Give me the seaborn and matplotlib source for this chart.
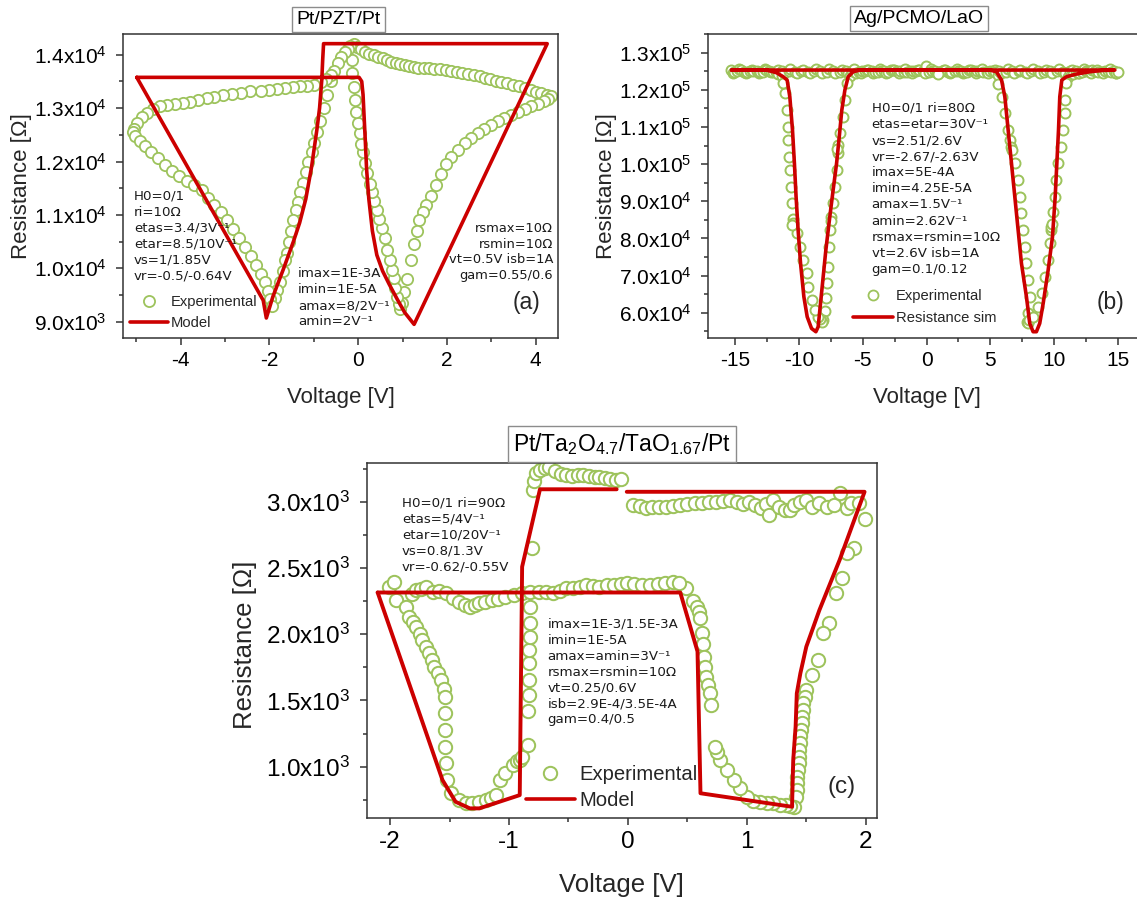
import numpy as np
import pandas as pd
import matplotlib
matplotlib.use("Agg")
import matplotlib.pyplot as plt
from matplotlib.lines import Line2D
from matplotlib.ticker import MultipleLocator, FuncFormatter
import seaborn as sns

# ---------------------------------------------------------------- data
# (a) Pt/PZT/Pt : experimental R(V) loop, drawn branch by branch
a_up_right_v = [-0.10, -0.02, 0.06, 0.15, 0.25, 0.35, 0.45, 0.55, 0.65, 0.75,
                0.85, 0.95, 1.05, 1.15, 1.25, 1.35, 1.48, 1.60, 1.72, 1.85,
                1.98, 2.10, 2.22, 2.35, 2.48, 2.61, 2.74, 2.86, 2.98, 3.10,
                3.22, 3.36, 3.50, 3.63, 3.76, 3.89, 4.00, 4.12, 4.25, 4.34]
a_up_right_r = [14200, 14150, 14100, 14060, 14020, 13990, 13960, 13930, 13900, 13870,
                13845, 13820, 13800, 13785, 13770, 13760, 13752, 13745, 13735, 13725,
                13710, 13695, 13680, 13665, 13645, 13626, 13600, 13570, 13545, 13515,
                13490, 13471, 13440, 13405, 13375, 13345, 13310, 13280, 13250, 13230]
a_low_right_v = [4.28, 4.18, 4.05, 3.90, 3.76, 3.60, 3.45, 3.29, 3.14, 2.99,
                 2.84, 2.69, 2.55, 2.40, 2.25, 2.10, 1.98, 1.86, 1.75, 1.63,
                 1.52, 1.45, 1.38, 1.32, 1.25, 1.18, 1.10, 1.04, 0.99, 0.95]
a_low_right_r = [13170, 13130, 13080, 13040, 12990, 12930, 12880, 12820, 12750, 12680,
                 12610, 12534, 12440, 12340, 12220, 12080, 11950, 11760, 11560, 11360,
                 11180, 11050, 10900, 10700, 10450, 10150, 9800, 9550, 9350, 9230]
a_dip_right_v = [0.91, 0.88, 0.84, 0.80, 0.76, 0.71, 0.66, 0.60, 0.54, 0.48,
                 0.42, 0.36, 0.31, 0.26, 0.21, 0.16, 0.11, 0.07, 0.03, -0.01,
                 -0.04, -0.07, -0.10, -0.13, -0.14]
a_dip_right_r = [9330, 9470, 9640, 9810, 9970, 10150, 10350, 10560, 10760, 10920,
                 11100, 11260, 11430, 11580, 11780, 11980, 12180, 12330, 12530, 12720,
                 12920, 13150, 13400, 13650, 13900]
a_dip_left_v = [-0.18, -0.24, -0.30, -0.38, -0.46, -0.55, -0.62, -0.70, -0.78, -0.85,
                -0.92, -0.99, -1.05, -1.12, -1.18, -1.24, -1.30, -1.35, -1.40, -1.46,
                -1.51, -1.56, -1.61, -1.65, -1.70, -1.76, -1.82, -1.88]
a_dip_left_r = [14160, 14110, 14050, 13950, 13850, 13700, 13500, 13250, 13000, 12750,
                12550, 12350, 12180, 12000, 11800, 11600, 11420, 11250, 11100, 10910,
                10700, 10500, 10287, 10150, 9950, 9750, 9600, 9450]
a_up_left_v = [-0.62, -0.72, -0.84, -0.99, -1.15, -1.30, -1.46, -1.64, -1.82, -2.00,
               -2.20, -2.44, -2.65, -2.85, -3.05, -3.25, -3.41, -3.60, -3.78, -3.95,
               -4.12, -4.30, -4.46, -4.62, -4.76, -4.88, -4.98, -5.05]
a_up_left_r = [13620, 13540, 13480, 13439, 13420, 13405, 13390, 13370, 13350, 13335,
               13325, 13313, 13290, 13265, 13240, 13215, 13190, 13160, 13120, 13090,
               13070, 13050, 13032, 12980, 12900, 12830, 12720, 12610]
a_low_left_v = [-5.07, -5.02, -4.92, -4.80, -4.66, -4.50, -4.35, -4.20, -4.03, -3.86,
                -3.70, -3.53, -3.38, -3.24, -3.10, -2.96, -2.82, -2.68, -2.55, -2.42,
                -2.30, -2.19, -2.10, -2.03, -1.98, -1.94]
a_low_left_r = [12560, 12480, 12390, 12290, 12180, 12070, 11930, 11820, 11720, 11640,
                11560, 11460, 11320, 11180, 11060, 10900, 10730, 10570, 10400, 10230,
                10060, 9900, 9740, 9580, 9430, 9300]
# (a) model
a_mod_v = [-4.99, 0.02, 0.08, 0.11, 0.13, 0.16, 0.19, 0.24, 0.32, 0.42,
           0.55, 0.70, 0.88, 1.05, 1.26, 4.26, -0.78, -0.80, -0.82, -0.87,
           -0.93, -1.05, -1.18, -1.32, -1.46, -1.69, -1.92, -2.07, -2.14, -4.99]
a_mod_r = [13576, 13576, 13500, 13250, 12900, 12400, 11850, 11300, 10700, 10250,
           9950, 9700, 9420, 9170, 8950, 14207, 14207, 13900, 13530, 13000,
           12600, 11900, 11300, 10850, 10500, 9974, 9474, 9069, 9400, 13576]

# (b) Ag/PCMO/LaO : high-resistance plateau (several sweeps) and the two dips
b_flat1_v = [-15.3, -14.8, -14.3, -13.8, -13.3, -12.8, -12.3, -11.8, -11.3, -10.8,
             -10.3, -9.8, -9.3, -8.8, -8.3, -7.8, -7.3, -6.8, -6.3, -5.8,
             -5.3, -4.8, -4.3, -3.8, -3.3, -2.8, -2.3, -1.8, -1.3, -0.8,
             -0.3, 0.2, 0.7, 1.2, 1.7, 2.2, 2.7, 3.2, 3.7, 4.2,
             4.7, 5.2, 5.7, 6.2, 6.7, 7.2, 7.7, 8.2, 8.7, 9.2,
             9.7, 10.2, 10.7, 11.2, 11.7, 12.2, 12.7, 13.2, 13.7, 14.2,
             14.7, 15.0]
b_flat1_r = [125300, 125100, 124900, 125200, 125000, 124800, 125100, 124900, 125200, 125000,
             124800, 125100, 124900, 125000, 125200, 124900, 125100, 124800, 125000, 125200,
             124900, 125100, 125000, 124800, 125100, 125300, 125000, 124900, 125200, 125100,
             125000, 124900, 125200, 125000, 124800, 125100, 125200, 124900, 125000, 125100,
             124800, 125000, 125200, 124900, 125100, 125000, 124800, 125100, 125200, 124900,
             125000, 125100, 124800, 125000, 125200, 124900, 125100, 125000, 124800, 125100,
             125000, 124700]
b_flat2_v = [-15.05, -14.55, -14.05, -13.55, -13.05, -12.55, -12.05, -11.6, -11.3,
             -6.0, -5.55, -5.05, -4.55, -4.05, -3.55, -3.05, -2.55, -2.05, -1.55,
             -1.05, -0.55, -0.05, 0.45, 0.95, 1.45, 1.95, 2.45, 2.95, 3.45,
             3.95, 4.45, 4.95, 5.35, 5.6,
             11.1, 11.5, 11.95, 12.45, 12.95, 13.45, 13.95, 14.45, 14.85]
b_flat2_r = [124700, 125300, 124900, 125100, 124700, 125300, 124900, 124400, 123700,
             123600, 124500, 125000, 125300, 124800, 125200, 124900, 125300, 125100, 124800,
             125200, 125400, 126500, 125100, 124900, 125300, 124800, 125200, 124900, 125300,
             125000, 124800, 125200, 124700, 124000,
             123400, 124200, 124600, 125000, 125300, 124800, 125200, 124800, 124600]
b_flat3_v = [-15.15, -14.65, -14.15, -13.65, -13.15, -12.65, -12.15, -11.65, -11.15, -10.65,
             -10.15, -9.65, -9.15, -8.65, -8.15, -7.65, -7.15, -6.65, -6.15, -5.65,
             -5.15, -4.65, -4.15, -3.65, -3.15, -2.65, -2.15, -1.65, -1.15, -0.65,
             -0.15, 0.35, 0.85, 1.35, 1.85, 2.35, 2.85, 3.35, 3.85, 4.35,
             4.85, 5.35, 5.85, 6.35, 6.85, 7.35, 7.85, 8.35, 8.85, 9.35,
             9.85, 10.35, 10.85, 11.35, 11.85, 12.35, 12.85, 13.35, 13.85, 14.35,
             14.85]
b_flat3_r = [124500, 125500, 124600, 125400, 124500, 125500, 124700, 125400, 124500, 125500,
             124600, 125400, 124500, 125500, 124600, 125500, 124500, 125400, 124600, 125500,
             124500, 125400, 124600, 125500, 124500, 125400, 124600, 125500, 124500, 125400,
             124600, 125500, 124500, 125400, 124600, 125500, 124500, 125400, 124600, 125500,
             124500, 125400, 124600, 125500, 124500, 125400, 124600, 125500, 124500, 125400,
             124600, 125500, 124500, 125400, 124600, 125500, 124500, 125400, 124600, 125500,
             124500]
b_ldip_v = [-6.21, -6.39, -6.57, -6.78, -6.91, -6.96, -7.00, -7.04, -7.18, -7.31,
            -7.44, -7.47, -7.52, -7.62, -7.70, -7.78, -7.83, -7.96, -8.09, -8.20,
            -8.30, -8.48, -8.74, -9.00, -9.26, -9.39, -9.65, -9.91, -10.17, -10.43,
            -10.45, -10.50, -10.56, -10.64, -10.70, -10.75, -10.83, -10.83, -10.90, -11.09,
            -11.20]
b_ldip_r = [121740, 117250, 112770, 108280, 105130, 102890, 104000, 98400, 93920, 89430,
            85840, 84800, 82240, 77760, 72370, 67880, 63840, 60500, 58000, 57600,
            58200, 58900, 60700, 63390, 66980, 70580, 74160, 77750, 81350, 85200,
            84200, 83500, 89400, 93900, 98400, 102000, 106480, 110070, 114560, 119050,
            121800]
b_rdip_v = [5.60, 5.87, 6.13, 6.39, 6.55, 6.65, 6.70, 6.91, 7.17, 7.30,
            7.43, 7.56, 7.69, 7.82, 7.95, 8.08, 7.95, 7.90, 7.98, 8.05,
            8.34, 8.73, 9.00, 9.26, 9.52, 9.65, 9.75, 9.78, 9.80, 9.91,
            10.04, 10.17, 10.30, 10.56, 10.69, 10.82, 10.82, 10.95]
b_rdip_r = [121500, 118150, 113660, 109170, 106500, 104690, 103800, 100200, 95710, 91220,
            86730, 82240, 77760, 73270, 68780, 64290, 59800, 57560, 57300, 57900,
            58900, 61600, 65190, 69680, 74160, 78650, 82300, 83140, 84000, 87180,
            91220, 95710, 100200, 104690, 109170, 113660, 117250, 121740]
b_last_v = [0.9]
b_last_r = [124400]
# (b) model
b_mod_v = [0.0, 4.95, 5.48, 5.87, 6.13, 6.39, 6.65, 6.91, 7.17, 7.43,
           7.82, 8.08, 8.34, 8.60, 8.86, 9.13, 9.52, 9.86, 10.07, 10.20,
           10.33, 10.43, 10.59, 10.95, 11.73, 12.78, 13.82, 14.74, -15.26, -12.52,
           -11.74, -11.22, -10.91, -10.70, -10.49, -10.34, -10.21, -10.05, -9.86, -9.60,
           -9.34, -9.00, -8.66, -8.48, -8.35, -8.14, -7.88, -7.57, -7.31, -7.04,
           -6.83, -6.63, -6.39, -6.13, -5.74, -5.22, 0.0]
b_mod_r = [125330, 125330, 124880, 122640, 118150, 109170, 100200, 91220, 82240, 73270,
           64290, 57110, 54870, 54870, 57110, 62500, 71480, 80450, 91220, 100200,
           109170, 118150, 122640, 123540, 124250, 124880, 125240, 125330, 125330, 125330,
           124610, 123540, 122640, 118150, 109170, 100200, 91220, 82240, 73270, 64290,
           58900, 55760, 54870, 56210, 60700, 67880, 76860, 85840, 93020, 100200,
           107380, 114560, 119950, 123540, 124880, 125330, 125330]

# (c) Pt/Ta2O4.7/TaO1.67/Pt
c_top_v = [-0.81, -0.80, -0.79, -0.77, -0.74, -0.70, -0.66, -0.61, -0.56, -0.52,
           -0.47, -0.42, -0.38, -0.33, -0.28, -0.24, -0.19, -0.15, -0.10, -0.06]
c_top_r = [2648, 3088, 3160, 3214, 3240, 3258, 3260, 3235, 3210, 3201,
           3195, 3200, 3201, 3195, 3190, 3189, 3180, 3172, 3166, 3170]
c_hrs_v = [0.045, 0.10, 0.15, 0.20, 0.26, 0.32, 0.38, 0.44, 0.50, 0.56,
           0.62, 0.68, 0.74, 0.80, 0.86, 0.92, 0.97, 1.02, 1.07, 1.12,
           1.16, 1.19, 1.22, 1.27, 1.32, 1.36, 1.40, 1.45, 1.50, 1.55,
           1.61, 1.67, 1.73, 1.78, 1.84, 1.88, 1.94, 1.99]
c_hrs_r = [2975, 2965, 2955, 2960, 2962, 2962, 2968, 2975, 2985, 2988,
           2990, 2995, 3000, 3005, 3013, 3000, 2985, 2995, 2975, 2950,
           2985, 2900, 3013, 2960, 2940, 2937, 2975, 2995, 3013, 2960,
           2988, 2960, 2975, 3063, 2950, 2988, 2988, 2867]
c_rdrop_v = [1.90, 1.84, 1.80, 1.75, 1.69, 1.64, 1.60, 1.55, 1.50, 1.485,
             1.475, 1.47, 1.465, 1.46, 1.455, 1.45, 1.448, 1.44, 1.44, 1.435,
             1.43, 1.425, 1.42, 1.42, 1.41, 1.40]
c_rdrop_r = [2648, 2610, 2422, 2313, 2082, 2007, 1805, 1692, 1579, 1530,
             1478, 1430, 1377, 1330, 1277, 1230, 1176, 1130, 1075, 1025,
             975, 925, 875, 825, 774, 698]
c_rbot_v = [1.36, 1.33, 1.28, 1.22, 1.17, 1.11, 1.05, 1.00, 0.94, 0.89, 0.83, 0.77, 0.75, 0.73]
c_rbot_r = [705, 715, 715, 724, 724, 736, 745, 774, 837, 900, 975, 1050, 1110, 1151]
c_mdrop_v = [0.49, 0.55, 0.58, 0.60, 0.61, 0.62, 0.63, 0.64, 0.65, 0.66, 0.67, 0.69, 0.70]
c_mdrop_r = [2346, 2250, 2208, 2170, 2119, 2010, 1930, 1830, 1754, 1680, 1620, 1560, 1466]
c_lrs_v = [-2.01, -1.97, -1.95, -1.87, -1.82, -1.78, -1.74, -1.70, -1.64, -1.59,
           -1.53, -1.47, -1.42, -1.37, -1.33, -1.29, -1.25, -1.20, -1.14, -1.09,
           -1.03, -0.96, -0.89, -0.82, -0.75, -0.69, -0.63, -0.57, -0.52, -0.46,
           -0.40, -0.35, -0.29, -0.24, -0.18, -0.12, -0.06, -0.01, 0.05, 0.12,
           0.185, 0.25, 0.31, 0.38, 0.43]
c_lrs_r = [2358, 2396, 2258, 2208, 2300, 2334, 2340, 2358, 2321, 2330,
           2309, 2270, 2246, 2220, 2208, 2220, 2233, 2245, 2258, 2265,
           2283, 2295, 2309, 2320, 2321, 2315, 2309, 2330, 2346, 2350,
           2360, 2371, 2365, 2358, 2370, 2375, 2380, 2384, 2378, 2372,
           2371, 2380, 2390, 2396, 2390]
c_ldrop_v = [-1.84, -1.81, -1.78, -1.75, -1.73, -1.70, -1.67, -1.65, -1.63, -1.60,
             -1.57, -1.55, -1.54, -1.54, -1.54, -1.54, -1.53, -1.52, -1.49, -1.42,
             -1.36, -1.31, -1.25, -1.19, -1.15, -1.11]
c_ldrop_r = [2132, 2095, 2057, 2005, 1956, 1905, 1856, 1805, 1755, 1705,
             1654, 1590, 1528, 1403, 1277, 1151, 1025, 900, 799, 749,
             730, 724, 735, 749, 765, 786]
c_lrise_v = [-1.08, -1.03, -0.97, -0.93, -0.91, -0.89]
c_lrise_r = [900, 950, 1013, 1040, 1050, 1075]
c_vert_v = [-0.84, -0.84, -0.83, -0.83, -0.83, -0.83, -0.82, -0.82, -0.82]
c_vert_r = [1165, 1420, 1540, 1654, 1780, 1881, 1981, 2082, 2208]
# (c) model, two separate strokes
c_mod_v = [-2.105, 0.44, 0.585, 0.61, 1.38, 1.39, 1.41, 1.42, 1.45, 1.50,
           1.61, 1.78, 1.99, -0.01,
           -0.095, -0.74, -0.89, -0.91, -1.25, -1.33, -1.45, -1.56, -2.105]
c_mod_r = [2315, 2315, 1870, 800, 698, 1050, 1302, 1554, 1705, 1906,
           2182, 2560, 3075, 3075,
           3094, 3094, 2509, 786, 686, 686, 736, 900, 2315]
c_mod_seg = [0, 0, 0, 0, 0, 0, 0, 0, 0, 0, 0, 0, 0, 0,
             1, 1, 1, 1, 1, 1, 1, 1, 1]

# parameter annotations
a_txt_left = ["H0=0/1", "ri=10Ω", "etas=3.4/3V⁻¹", "etar=8.5/10V⁻¹",
              "vs=1/1.85V", "vr=-0.5/-0.64V"]
a_txt_mid = ["imax=1E-3A", "imin=1E-5A", "amax=8/2V⁻¹", "amin=2V⁻¹"]
a_txt_right = ["rsmax=10Ω", "rsmin=10Ω", "vt=0.5V isb=1A", "gam=0.55/0.6"]
b_txt = ["H0=0/1 ri=80Ω", "etas=etar=30V⁻¹", "vs=2.51/2.6V", "vr=-2.67/-2.63V",
         "imax=5E-4A", "imin=4.25E-5A", "amax=1.5V⁻¹", "amin=2.62V⁻¹",
         "rsmax=rsmin=10Ω", "vt=2.6V isb=1A", "gam=0.1/0.12"]
c_txt_left = ["H0=0/1 ri=90Ω", "etas=5/4V⁻¹", "etar=10/20V⁻¹",
              "vs=0.8/1.3V", "vr=-0.62/-0.55V"]
c_txt_mid = ["imax=1E-3/1.5E-3A", "imin=1E-5A", "amax=amin=3V⁻¹",
             "rsmax=rsmin=10Ω", "vt=0.25/0.6V", "isb=2.9E-4/3.5E-4A", "gam=0.4/0.5"]

titles = ["Pt/PZT/Pt", "Ag/PCMO/LaO", "Pt/Ta$_2$O$_{4.7}$/TaO$_{1.67}$/Pt"]

# ---------------------------------------------------------------- style
sns.set_style("ticks")
GREEN = "#9dc35c"
RED = "#cc0000"
SPINE = "#333333"
plt.rcParams.update({
    "font.family": ["Liberation Sans", "DejaVu Sans"],
    "mathtext.default": "regular",
    "axes.unicode_minus": False,
    "axes.edgecolor": SPINE,
    "axes.linewidth": 1.1,
    "xtick.color": SPINE,
    "ytick.color": SPINE,
    "xtick.labelcolor": "black",
    "ytick.labelcolor": "black",
})

W, H = 1137, 905
fig = plt.figure(figsize=(W / 100, H / 100), dpi=100)


def axes_px(l, t, r, b):
    return fig.add_axes([l / W, 1 - b / H, (r - l) / W, (b - t) / H])


def sci_label(v, pos):
    if v <= 0:
        return ""
    e = int(np.floor(np.log10(v) + 1e-9))
    return f"{v / 10 ** e:.1f}x10$^{{{e}}}$"


def style_axes(ax, xmaj, xmin, ymaj, ymin, tsize):
    ax.xaxis.set_major_locator(MultipleLocator(xmaj))
    ax.xaxis.set_minor_locator(MultipleLocator(xmin))
    ax.yaxis.set_major_locator(MultipleLocator(ymaj))
    ax.yaxis.set_minor_locator(MultipleLocator(ymin))
    ax.yaxis.set_major_formatter(FuncFormatter(sci_label))
    ax.tick_params(which="major", direction="out", length=5, width=1.1, labelsize=tsize)
    ax.tick_params(axis="y", which="major", pad=7)
    ax.tick_params(axis="x", which="major", pad=4)
    ax.tick_params(which="minor", direction="out", length=3, width=1.1)


def labels(ax, fs, xl_y, yl_x, yl_y=0.5):
    ax.set_xlabel("Voltage [V]", fontsize=fs)
    ax.set_ylabel("Resistance [Ω]", fontsize=fs)
    ax.xaxis.set_label_coords(0.5, xl_y)
    ax.yaxis.set_label_coords(yl_x, yl_y)
    ax.xaxis.label.set_va("center")
    ax.yaxis.label.set_va("center")


def scatter(ax, v, r, s, lw):
    sns.scatterplot(x=v, y=r, ax=ax, marker="o", s=s, color=GREEN,
                    facecolor="white", edgecolor=GREEN, linewidth=lw,
                    legend=False, zorder=2)


def legend(ax, names, ms, mew, fs, anchor, hl, htp, lsp):
    handles = [Line2D([], [], ls="none", marker="o", ms=ms, mfc="white",
                      mec=GREEN, mew=mew),
               Line2D([], [], color=RED, lw=2.6)]
    ax.legend(handles, names, loc="upper left", bbox_to_anchor=anchor,
              frameon=False, fontsize=fs, handlelength=hl, handletextpad=htp,
              labelspacing=lsp, borderpad=0, borderaxespad=0, numpoints=1)


def text_lines(lines, x, y0, dy, ha="left", size=9.6):
    for i, s in enumerate(lines):
        fig.text(x / W, 1 - (y0 + i * dy) / H, s, ha=ha, va="center",
                 fontsize=size, family="DejaVu Sans", color="#1a1a1a")


def title_box(s, cx, cy, size):
    fig.text(cx / W, 1 - cy / H, s, ha="center", va="center", fontsize=size,
             color="black",
             bbox=dict(boxstyle="square,pad=0.22", fc="white", ec="#8c8c8c", lw=1.0))


# ---------------------------------------------------------------- panel (a)
ax_a = axes_px(123, 34, 558.3, 338.3)
a_v = (a_up_right_v + a_low_right_v + a_dip_right_v + a_dip_left_v
       + a_up_left_v + a_low_left_v)
a_r = (a_up_right_r + a_low_right_r + a_dip_right_r + a_dip_left_r
       + a_up_left_r + a_low_left_r)
scatter(ax_a, a_v, a_r, 66, 1.3)
sns.lineplot(x=a_mod_v, y=a_mod_r, sort=False, estimator=None, ax=ax_a,
             color=RED, lw=2.6, zorder=3)
ax_a.set_xlim(-5.30, 4.51)
ax_a.set_ylim(8689, 14388)
style_axes(ax_a, 2, 1, 1000, 500, 15)
labels(ax_a, 16, -0.193, -0.234)
legend(ax_a, ["Experimental", "Model"], 8.0, 1.3, 10.6, (0.016, 0.142), 2.6, 0.2, 0.5)
ax_a.text(0.928, 0.119, "(a)", transform=ax_a.transAxes, ha="center",
          va="center", fontsize=16.5)

# ---------------------------------------------------------------- panel (b)
ax_b = axes_px(708.3, 34, 1145, 338.3)
# plateau sweeps drawn in voltage order so the open circles stack into a band
b_flat = pd.DataFrame({"V": b_flat1_v + b_flat3_v + b_flat2_v,
                       "R": b_flat1_r + b_flat3_r + b_flat2_r}).sort_values("V")
b_v = list(b_flat["V"]) + b_ldip_v + b_rdip_v + b_last_v
b_r = list(b_flat["R"]) + b_ldip_r + b_rdip_r + b_last_r
scatter(ax_b, b_v, b_r, 52, 1.4)
sns.lineplot(x=b_mod_v, y=b_mod_r, sort=False, estimator=None, ax=ax_b,
             color=RED, lw=2.6, zorder=3)
ax_b.set_xlim(-17.08, 17.1)
ax_b.set_ylim(53100, 135040)
style_axes(ax_b, 5, 2.5, 10000, 5000, 15)
labels(ax_b, 16, -0.193, -0.234)
legend(ax_b, ["Experimental", "Resistance sim"], 7.2, 1.3, 10.6, (0.331, 0.163), 2.7, 0.2, 0.55)
ax_b.text(0.92, 0.119, "(b)", transform=ax_b.transAxes, ha="center",
          va="center", fontsize=16.5)

# ---------------------------------------------------------------- panel (c)
ax_c = axes_px(366.6, 463.3, 876.7, 818.3)
c_v = (c_top_v + c_hrs_v + c_rdrop_v + c_rbot_v + c_mdrop_v + c_lrs_v
       + c_ldrop_v + c_lrise_v + c_vert_v)
c_r = (c_top_r + c_hrs_r + c_rdrop_r + c_rbot_r + c_mdrop_r + c_lrs_r
       + c_ldrop_r + c_lrise_r + c_vert_r)
scatter(ax_c, c_v, c_r, 92, 1.45)
c_model = pd.DataFrame({"V": c_mod_v, "R": c_mod_r, "seg": c_mod_seg})
sns.lineplot(data=c_model, x="V", y="R", units="seg", estimator=None,
             sort=False, ax=ax_c, color=RED, lw=2.8, zorder=3)
ax_c.set_xlim(-2.198, 2.092)
ax_c.set_ylim(611, 3290)
style_axes(ax_c, 1, 0.5, 500, 250, 17.5)
labels(ax_c, 18.5, -0.188, -0.238, 0.488)
legend(ax_c, ["Experimental", "Model"], 9.6, 1.45, 14.6, (0.3125, 0.150), 2.4, 0.25, 0.35)
ax_c.text(0.931, 0.089, "(c)", transform=ax_c.transAxes, ha="center",
          va="center", fontsize=17.5)

# ---------------------------------------------------------------- annotations
text_lines(a_txt_left, 134, 196, 16.0)
text_lines(a_txt_mid, 298, 273.3, 16.1)
text_lines(a_txt_right, 553, 228.3, 15.7, ha="right", size=9.4)
text_lines(b_txt, 871.7, 108.3, 16.1)
text_lines(c_txt_left, 402, 502.7, 16.15)
text_lines(c_txt_mid, 547.7, 624, 16.0)

title_box(titles[0], 338.4, 19.7, 14)
title_box(titles[1], 919, 18.5, 14)
title_box(titles[2], 621.8, 443.8, 16.5)

fig.savefig("out.png", dpi=100)
